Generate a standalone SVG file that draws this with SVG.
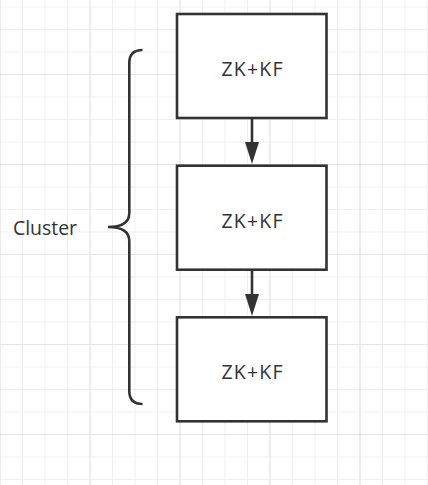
<svg xmlns="http://www.w3.org/2000/svg" width="428" height="485" viewBox="0 0 428 485">
  <defs>
    <pattern id="minor" patternUnits="userSpaceOnUse" x="-0.5" y="6.5" width="22.5" height="22.5">
      <path d="M0.5,0 V22.5 M0,0.5 H22.5" fill="none" stroke="#f0f0f0" stroke-width="1"/>
    </pattern>
    <pattern id="major" patternUnits="userSpaceOnUse" x="-0.5" y="74" width="90" height="90">
      <path d="M0.5,0 V90 M0,0.5 H90" fill="none" stroke="#e4e4e4" stroke-width="1"/>
    </pattern>
    <marker id="arrow" viewBox="0 0 14 21" refX="7" refY="21" markerWidth="14" markerHeight="21" markerUnits="userSpaceOnUse" orient="auto-start-reverse">
      <path d="M0,0 L7,21 L14,0 Z" fill="#333333"/>
    </marker>
    <style>
      .box { fill: #ffffff; stroke: #333333; stroke-width: 2.6; }
      .label { font-family: "Open Sans", "Noto Sans", sans-serif; font-size: 19.5px; fill: #333333; text-anchor: middle; }
      .edge { fill: none; stroke: #333333; stroke-width: 2.6; }
      .brace { fill: none; stroke: #333333; stroke-width: 2.6; stroke-linecap: butt; }
    </style>
  </defs>
  <rect width="428" height="485" fill="#ffffff"/>
  <rect width="428" height="485" fill="url(#minor)"/>
  <rect width="428" height="485" fill="url(#major)"/>

  <g id="connectors">
    <path class="edge" d="M252,118 V143"/>
    <path d="M245,142 L252,164 L259,142 Z" fill="#333333"/>
    <path class="edge" d="M252,270 V295"/>
    <path d="M245,294 L252,316 L259,294 Z" fill="#333333"/>
  </g>

  <g id="node1">
    <rect class="box" x="177" y="14" width="149.5" height="104"/>
    <text class="label" x="252" y="76" textLength="61" lengthAdjust="spacing">ZK+KF</text>
  </g>
  <g id="node2">
    <rect class="box" x="177" y="165.7" width="149.5" height="104"/>
    <text class="label" x="252" y="227.7" textLength="61" lengthAdjust="spacing">ZK+KF</text>
  </g>
  <g id="node3">
    <rect class="box" x="177" y="317.3" width="149.5" height="104"/>
    <text class="label" x="252" y="379.3" textLength="61" lengthAdjust="spacing">ZK+KF</text>
  </g>

  <g id="cluster">
    <path class="brace" d="M142.5,50 Q129.3,50 129.3,63 L129.3,213 Q129.3,227 108,227 Q129.3,227 129.3,241 L129.3,391 Q129.3,404 142.5,404"/>
    <text x="13" y="235" font-family="'Open Sans', 'Noto Sans', sans-serif" font-size="19.5" fill="#333333" textLength="64" lengthAdjust="spacing">Cluster</text>
  </g>
</svg>
